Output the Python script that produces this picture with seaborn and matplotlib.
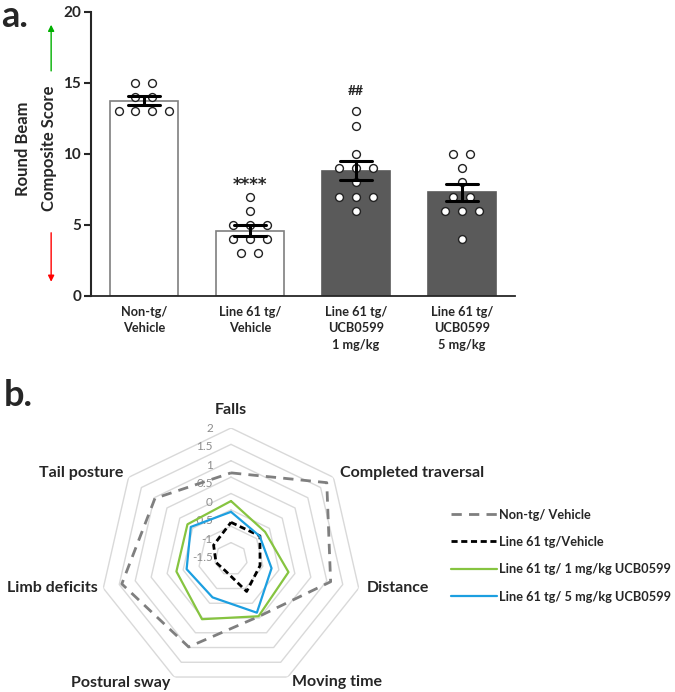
import matplotlib
matplotlib.use('Agg')
import matplotlib.pyplot as plt
import numpy as np
import pandas as pd
import seaborn as sns

sns.set_style('ticks')
plt.rcParams['font.family'] = ['Lato', 'DejaVu Sans']

# Panel a: individual round beam composite scores per group
GROUPS = [
    'Non-tg/\nVehicle',
    'Line 61 tg/\nVehicle',
    'Line 61 tg/\nUCB0599\n1 mg/kg',
    'Line 61 tg/\nUCB0599\n5 mg/kg',
]
NONTG_VEHICLE = [15, 15, 14, 14, 13, 13, 13, 13]
L61_VEHICLE = [7, 6, 5, 5, 5, 4, 4, 4, 3, 3]
L61_1MG = [13, 12, 10, 9, 9, 9, 8, 7, 7, 7, 6]
L61_5MG = [10, 10, 9, 8, 7, 7, 6, 6, 6, 4]
Y_TICKS = [0, 5, 10, 15, 20]
BAR_COLORS = ['white', 'white', '#5a5a5a', '#5a5a5a']
BAR_EDGES = ['#7f7f7f', '#7f7f7f', '#5a5a5a', '#5a5a5a']

# Panel b: z-scores of each beam measure
MEASURES = ['Falls', 'Completed traversal', 'Distance', 'Moving time',
            'Postural sway', 'Limb deficits', 'Tail posture']
RADAR_NONTG = [0.63, 1.74, 1.12, -0.05, 0.98, 1.42, 0.97]
RADAR_VEHICLE = [-0.88, -0.87, -1.09, -0.90, -1.60, -1.53, -1.32]
RADAR_1MG = [-0.23, -0.67, -0.20, -0.06, 0.04, -0.29, -0.30]
RADAR_5MG = [-0.56, -0.88, -0.73, -0.18, -0.70, -0.61, -0.43]
RADAR_LABELS = ['Non-tg/ Vehicle', 'Line 61 tg/Vehicle',
                'Line 61 tg/ 1 mg/kg UCB0599', 'Line 61 tg/ 5 mg/kg UCB0599']
RING_TICKS = [2, 1.5, 1, 0.5, 0, -0.5, -1, -1.5]


def row_offsets(values, step=0.16):
    """Spreads equal values side by side, centred on the bar."""
    values = np.asarray(values)
    offsets = np.zeros(len(values))
    for v in np.unique(values):
        idx = np.where(values == v)[0]
        offsets[idx] = (np.arange(len(idx)) - (len(idx) - 1) / 2) * step
    return offsets


def draw_bars(fig):
    series = [NONTG_VEHICLE, L61_VEHICLE, L61_1MG, L61_5MG]
    scores = pd.DataFrame({
        'group': np.repeat(GROUPS, [len(s) for s in series]),
        'score': np.concatenate(series),
        'xpos': np.concatenate([i + row_offsets(s) for i, s in enumerate(series)]),
    })
    ax = fig.add_axes([0.1348, 0.5723, 0.628, 0.4104])
    sns.barplot(data=scores, x='group', y='score', hue='group', palette=BAR_COLORS,
                errorbar='se', capsize=0.3, width=0.64, legend=False,
                err_kws={'color': 'black', 'linewidth': 2.2}, ax=ax)
    for patch, ec in zip(ax.patches, BAR_EDGES):
        patch.set_edgecolor(ec)
        patch.set_linewidth(1.2)
    for line in ax.lines:
        line.set_zorder(4)
    sns.scatterplot(data=scores, x='xpos', y='score', color='white', edgecolor='#222222',
                    linewidth=1.0, s=32, zorder=3, legend=False, ax=ax)

    ax.set_xlim(-0.5, 3.5)
    ax.set_ylim(0, 20)
    ax.set_yticks(Y_TICKS)
    ax.set_xticks(range(len(GROUPS)))
    ax.set_xticklabels(GROUPS, fontsize=9.2, fontweight='bold', linespacing=1.45)
    ax.set_xlabel('')
    ax.tick_params(axis='x', length=0, pad=7)
    ax.tick_params(axis='y', length=5, width=1.5, labelsize=11, pad=2)
    for lbl in ax.get_yticklabels():
        lbl.set_fontweight('bold')
    sns.despine(ax=ax)
    ax.spines['left'].set_linewidth(1.5)
    ax.spines['bottom'].set_linewidth(1.3)
    ax.set_ylabel('Round Beam\nComposite Score', fontsize=12, fontweight='bold', linespacing=1.75)
    ax.yaxis.set_label_coords(-0.08, 0.52)

    ax.text(1, 7.8, '****', ha='center', va='center', fontsize=12, fontweight='bold',
            family='DejaVu Sans')
    ax.text(2, 14.4, '##', ha='center', va='center', fontsize=10, fontweight='bold')

    trans = ax.get_yaxis_transform()
    ax.annotate('', xy=(-0.094, 19.1), xytext=(-0.094, 15.85), xycoords=trans, textcoords=trans,
                arrowprops=dict(arrowstyle='-|>', color='#00b000', lw=1.0, mutation_scale=9,
                                shrinkA=0, shrinkB=0), annotation_clip=False)
    ax.annotate('', xy=(-0.094, 1.0), xytext=(-0.094, 4.45), xycoords=trans, textcoords=trans,
                arrowprops=dict(arrowstyle='-|>', color='#ff0000', lw=1.0, mutation_scale=9,
                                shrinkA=0, shrinkB=0), annotation_clip=False)


def draw_radar(fig):
    ax = fig.add_axes([100 / 675, 1 - 690 / 692, 262 / 675, 262 / 692], projection='polar')
    ax.set_theta_zero_location('N')
    ax.set_theta_direction(-1)
    ax.set_ylim(-2, 2)
    ax.grid(False)
    ax.set_xticks([])
    ax.set_yticks([])
    ax.spines['polar'].set_visible(False)
    ax.patch.set_visible(False)

    theta = np.linspace(0, 2 * np.pi, len(MEASURES), endpoint=False)
    closed = np.append(theta, 2 * np.pi)
    for r in RING_TICKS:
        ax.plot(closed, [r] * len(closed), color='#d9d9d9', lw=1.0, zorder=0)

    styles = [
        dict(color='#7f7f7f', lw=2.0, linestyle=(0, (3.7, 2.6))),
        dict(color='black', lw=2.0, linestyle=(0, (2.2, 1.3))),
        dict(color='#86c440', lw=1.6),
        dict(color='#1c9fe0', lw=1.6),
    ]
    for vals, st in zip([RADAR_NONTG, RADAR_VEHICLE, RADAR_1MG, RADAR_5MG], styles):
        sns.lineplot(x=closed, y=np.append(vals, vals[0]), sort=False, estimator=None,
                     ax=ax, zorder=3, **st)

    for r in RING_TICKS:
        ax.annotate(f'{r:g}', xy=(0, r), xytext=(-13, -(2 - r) * 3.1), textcoords='offset points',
                    ha='right', va='center', color='#8c8c8c', fontsize=8.5, zorder=2)

    label_offsets = [(0, 13, 'center'), (5, 3, 'left'), (5.8, 0, 'left'), (2.9, -3.6, 'left'),
                     (-2.9, -4.3, 'right'), (-4.3, 0, 'right'), (-4, 3, 'right')]
    for th, name, (dx, dy, ha) in zip(theta, MEASURES, label_offsets):
        ax.annotate(name, xy=(th, 2), xytext=(dx, dy), textcoords='offset points',
                    ha=ha, va='center', fontsize=11.5, fontweight='bold', annotation_clip=False)

    ax.legend(ax.lines[-4:], RADAR_LABELS, loc='upper left', bbox_to_anchor=(0.668, 0.265),
              bbox_transform=fig.transFigure, frameon=False, handlelength=3.6,
              handletextpad=0.15, labelspacing=1.2, borderpad=0, borderaxespad=0,
              prop={'weight': 'bold', 'size': 9.2})


def main():
    fig = plt.figure(figsize=(6.75, 6.92), dpi=100)
    draw_bars(fig)
    draw_radar(fig)
    fig.text(0.002, 0.976, 'a.', fontsize=26, fontweight='bold', va='center')
    fig.text(0.005, 0.428, 'b.', fontsize=26, fontweight='bold', va='center')
    fig.savefig('out.png', dpi=100)


if __name__ == '__main__':
    main()
